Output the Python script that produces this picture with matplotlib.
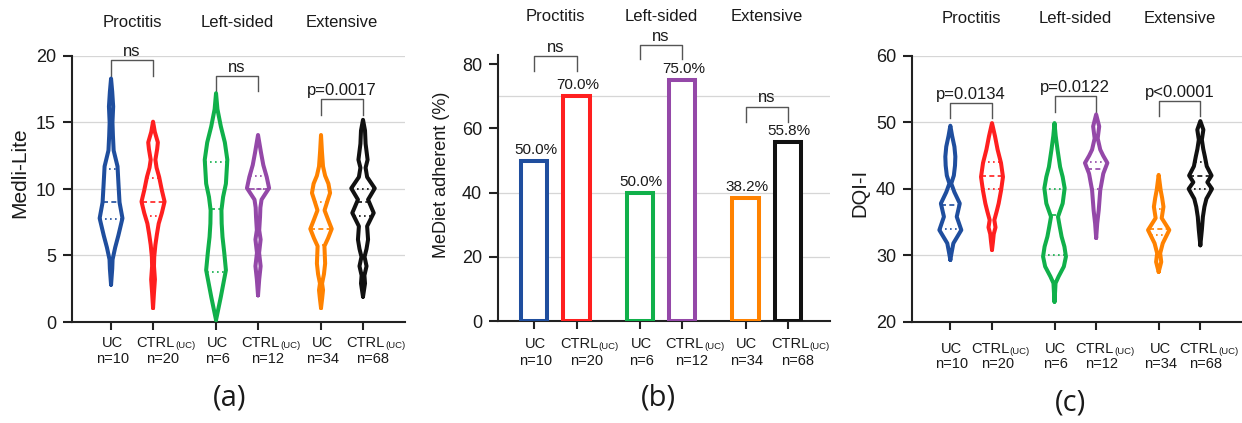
import matplotlib
matplotlib.use("Agg")
import matplotlib.pyplot as plt
import numpy as np
from matplotlib.transforms import blended_transform_factory

plt.rcParams['font.family'] = ['Liberation Sans', 'DejaVu Sans']

# ---------------- data ----------------
groups = ["Proctitis", "Left-sided", "Extensive"]
arms = ["UC", "CTRL", "UC", "CTRL", "UC", "CTRL"]
arm_sub = ["", "(UC)", "", "(UC)", "", "(UC)"]
n_sizes = [10, 20, 6, 12, 34, 68]
colors = ["#1f4e9e", "#ff1f1f", "#10b04a", "#9448a8", "#ff8200", "#111111"]

# Medi-Lite violins: score levels and relative density
medlite_vals = [
    [2.8, 4.0, 4.7, 5.6, 6.5, 7.8, 9.0, 10.4, 11.7, 12.9, 14.0, 15.0, 16.2, 17.3, 18.3],
    [1.05, 2.2, 3.2, 4.2, 4.9, 5.8, 6.6, 7.4, 8.2, 9.05, 9.9, 10.9, 11.6, 12.2, 13.0, 13.5, 14.3, 15.06],
    [0.15, 1.9, 3.9, 5.2, 6.4, 7.4, 8.4, 9.4, 10.4, 12.2, 13.5, 14.7, 16.0, 17.2],
    [2.0, 3.2, 4.2, 5.2, 6.2, 6.9, 7.9, 8.6, 9.2, 10.07, 10.9, 11.8, 12.7, 14.06],
    [1.05, 1.8, 2.4, 2.9, 3.6, 4.4, 5.7, 6.3, 7.0, 7.7, 8.4, 9.1, 9.7, 10.4, 11.0, 11.7, 12.8, 14.06],
    [1.9, 2.9, 3.5, 4.2, 4.9, 5.5, 6.2, 7.2, 8.2, 9.2, 10.05, 10.9, 11.6, 12.2, 13.4, 14.4, 15.2],
]
medlite_dens = [
    [0, 0.10, 0.13, 0.35, 0.62, 0.97, 0.72, 0.63, 0.55, 0.22, 0.16, 0.12, 0.18, 0.10, 0],
    [0, 0.08, 0.16, 0.08, 0.10, 0.20, 0.33, 0.48, 0.75, 0.98, 0.75, 0.52, 0.30, 0.20, 0.35, 0.41, 0.15, 0],
    [0, 0.41, 0.84, 0.70, 0.55, 0.48, 0.46, 0.60, 0.84, 0.96, 0.75, 0.41, 0.12, 0],
    [0, 0.10, 0.22, 0.09, 0.22, 0.10, 0.17, 0.20, 0.30, 0.94, 0.74, 0.45, 0.26, 0],
    [0, 0.10, 0.17, 0.09, 0.25, 0.35, 0.29, 0.60, 0.91, 0.60, 0.30, 0.55, 0.77, 0.63, 0.35, 0.17, 0.08, 0],
    [0, 0.17, 0.12, 0.30, 0.13, 0.30, 0.43, 0.35, 0.91, 0.43, 1.00, 0.35, 0.22, 0.39, 0.22, 0.17, 0],
]
medlite_median = [9.0, 9.0, 8.5, 10.0, 7.0, 9.0]
medlite_q1 = [7.75, 8.0, 3.75, 10.0, 5.8, 8.0]
medlite_q3 = [11.5, 10.8, 12.0, 11.0, 9.0, 10.0]
medlite_p = ["ns", "ns", "p=0.0017"]

# MeDiet adherence bars
mediet_pct = [50.0, 70.0, 40.0, 75.0, 38.2, 55.8]
mediet_text = ["50.0%", "70.0%", "50.0%", "75.0%", "38.2%", "55.8%"]
mediet_p = ["ns", "ns", "ns"]

# DQI-I violins
dqi_vals = [
    [29.3, 30.5, 31.8, 33.8, 35.8, 37.8, 39.5, 40.8, 42.0, 43.5, 44.85, 46.35, 48.0, 49.5],
    [30.8, 32.0, 33.2, 34.2, 35.3, 36.6, 37.8, 39.8, 41.8, 43.9, 45.9, 47.9, 49.9],
    [23.0, 24.5, 25.8, 26.8, 28.3, 29.8, 31.3, 32.8, 34.3, 35.8, 37.8, 40.1, 41.8, 43.3, 45.9, 48.0, 49.9],
    [32.6, 34.8, 36.8, 39.8, 42.3, 43.9, 45.0, 45.9, 47.6, 49.4, 51.2],
    [27.5, 28.3, 29.0, 30.3, 31.8, 33.8, 35.6, 37.3, 38.6, 39.8, 42.1],
    [31.5, 33.8, 35.8, 37.3, 38.5, 40.0, 41.0, 42.0, 43.4, 44.85, 46.0, 47.4, 48.9, 50.2],
]
dqi_dens = [
    [0, 0.12, 0.26, 0.94, 0.55, 0.81, 0.35, 0.08, 0.30, 0.40, 0.43, 0.35, 0.15, 0],
    [0, 0.08, 0.15, 0.30, 0.20, 0.40, 0.57, 0.78, 0.94, 0.77, 0.48, 0.26, 0],
    [0, 0.05, 0.09, 0.35, 0.80, 0.98, 0.85, 0.61, 0.45, 0.30, 0.70, 0.87, 0.70, 0.48, 0.26, 0.10, 0],
    [0, 0.09, 0.22, 0.35, 0.61, 0.96, 0.60, 0.35, 0.13, 0.26, 0],
    [0, 0.12, 0.22, 0.13, 0.35, 0.91, 0.26, 0.41, 0.30, 0.17, 0],
    [0, 0.13, 0.22, 0.35, 0.52, 1.00, 0.60, 0.96, 0.55, 0.39, 0.25, 0.13, 0.26, 0],
]
dqi_median = [37.5, 42.0, 36.0, 43.0, 34.0, 42.0]
dqi_q1 = [34.0, 40.0, 30.0, 40.0, 33.0, 40.0]
dqi_q3 = [41.0, 44.0, 40.0, 44.0, 37.0, 44.0]
dqi_p = ["p=0.0134", "p=0.0122", "p<0.0001"]

# ---------------- layout ----------------
positions = [1, 2, 3.5, 4.5, 6, 7]
HALF_W = 0.28
LW = 2.9
TXT = "#1a1a1a"

fig = plt.figure(figsize=(12.42, 4.23), dpi=100)
W, H = 1242.0, 423.0


def make_axes(left, right, bottom_px, top_px):
    return fig.add_axes([left / W, 1 - bottom_px / H, (right - left) / W, (bottom_px - top_px) / H])


def style(ax, ylim, yticks, grid, xlim):
    ax.set_xlim(*xlim)
    ax.set_ylim(*ylim)
    ax.set_yticks(yticks)
    ax.set_xticks(positions)
    ax.set_xticklabels([])
    for y in grid:
        ax.axhline(y, color="#d6d6d6", lw=0.9, zorder=0)
    for s in ["top", "right"]:
        ax.spines[s].set_visible(False)
    for s in ["left", "bottom"]:
        ax.spines[s].set_linewidth(1.5)
        ax.spines[s].set_color("#222222")
    ax.tick_params(axis="y", length=6.5, width=1.5, labelsize=13, pad=5, colors="#222222", labelcolor=TXT)
    ax.tick_params(axis="x", length=6, width=1.5, colors="#222222")


def tick_text(ax, base1, base2, shift=0.0):
    for i, (p, arm, sub, n) in enumerate(zip(positions, arms, arm_sub, n_sizes)):
        common = dict(xy=(p, 0), xycoords=("data", "axes fraction"), textcoords="offset points",
                      va="baseline", color=TXT)
        if sub:
            ax.annotate(arm, xytext=(15.5 + shift, -base1), ha="right", fontsize=10.5, **common)
            ax.annotate(sub, xytext=(15.8 + shift, -base1 - 0.6), ha="left", fontsize=6.8, **common)
            dx = 7 + shift
        else:
            ax.annotate(arm, xytext=(1, -base1), ha="center", fontsize=10.5, **common)
            dx = 1
        ax.annotate(f"n={n}", xytext=(dx, -base2), ha="center", fontsize=10.5, **common)


def headers(ax, base_px):
    tr = blended_transform_factory(ax.transData, fig.transFigure)
    for k, g in enumerate(groups):
        xc = (positions[2 * k] + positions[2 * k + 1]) / 2
        ax.text(xc, 1 - base_px / H, g, transform=tr, ha="center", va="baseline", fontsize=12, color=TXT)


def brackets(ax, tops, legs, labels):
    for k, (top, leg, lab) in enumerate(zip(tops, legs, labels)):
        x1, x2 = positions[2 * k], positions[2 * k + 1]
        ax.plot([x1, x1, x2, x2], [leg, top, top, leg], color="#555555", lw=1.0, clip_on=False)
        ax.annotate(lab, xy=((x1 + x2) / 2, top), xytext=(0, 3), textcoords="offset points",
                    ha="center", va="baseline", fontsize=12, color=TXT, annotation_clip=False)


def violins(ax, vals, dens, med, q1, q3):
    for i, p in enumerate(positions):
        v = np.asarray(vals[i])
        hw = np.asarray(dens[i]) * HALF_W
        xs = np.concatenate([p + hw, (p - hw)[::-1]])
        ys = np.concatenate([v, v[::-1]])
        ax.plot(xs, ys, color=colors[i], lw=LW, solid_joinstyle="round", solid_capstyle="round", zorder=3)
        w = np.interp(med[i], v, hw)
        ax.plot([p - w, p + w], [med[i]] * 2, color=colors[i], lw=1.2, ls=(0, (3, 2)), zorder=3)
        for q in (q1[i], q3[i]):
            w = np.interp(q, v, hw)
            ax.plot([p - w, p + w], [q] * 2, color=colors[i], lw=1.2, ls=(0, (1, 2)), zorder=3)


# ---- (a) Medi-Lite ----
ax_a = make_axes(72, 405, 322, 56)
style(ax_a, (0, 20), [0, 5, 10, 15, 20], [5, 10, 15, 20], (0.07, 8.0))
violins(ax_a, medlite_vals, medlite_dens, medlite_median, medlite_q1, medlite_q3)
brackets(ax_a, [19.7, 18.5, 16.75], [18.5, 17.4, 15.55], medlite_p)
ax_a.set_ylabel("Medli-Lite", fontsize=15, color=TXT, va="center")
ax_a.yaxis.set_label_coords(-0.156, 0.56)
tick_text(ax_a, 17.8, 29.7)
headers(ax_a, 26.7)

# ---- (b) MeDiet adherence ----
ax_b = make_axes(498, 830, 321, 55)
style(ax_b, (0, 82.9), [0, 20, 40, 60, 80], [20, 40, 70], (0.14, 8.0))
ax_b.bar(positions, mediet_pct, width=0.62, facecolor="white", edgecolor=colors, lw=LW, zorder=3)
for p, v, t in zip(positions, mediet_pct, mediet_text):
    ax_b.annotate(t, xy=(p, v), xytext=(1, 5), textcoords="offset points", ha="center",
                  va="baseline", fontsize=11, color=TXT)
brackets(ax_b, [82.6, 86.0, 66.8], [77.9, 81.5, 62.1], mediet_p)
ax_b.set_ylabel("MeDiet adherent (%)", fontsize=13, color=TXT, va="center")
ax_b.yaxis.set_label_coords(-0.171, 0.549)
tick_text(ax_b, 19.7, 31.7)
headers(ax_b, 20.7)

# ---- (c) DQI-I ----
ax_c = make_axes(912, 1242, 321.7, 56)
style(ax_c, (20, 60), [20, 30, 40, 50, 60], [30, 40, 50, 60], (0.08, 8.0))
violins(ax_c, dqi_vals, dqi_dens, dqi_median, dqi_q1, dqi_q3)
brackets(ax_c, [52.85, 53.95, 53.2], [50.6, 51.6, 51.0], dqi_p)
ax_c.set_ylabel("DQI-I", fontsize=14.5, color=TXT, va="center")
ax_c.yaxis.set_label_coords(-0.158, 0.484)
tick_text(ax_c, 22.3, 33.6, shift=-3)
headers(ax_c, 23.3)

# panel letters
for x, y, lab in [(230, 398, "(a)"), (658, 398, "(b)"), (1070, 403, "(c)")]:
    fig.text(x / W, 1 - y / H, lab, ha="center", va="center", fontsize=21, family="Open Sans", color=TXT)

fig.savefig("out.png", dpi=100)
